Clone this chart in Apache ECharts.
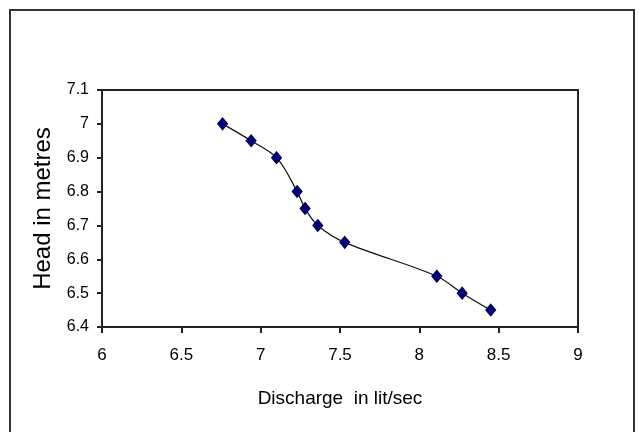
<!DOCTYPE html>
<html>
<head>
<meta charset="utf-8">
<script src="https://cdn.jsdelivr.net/npm/echarts@6/dist/echarts.min.js"></script>
<style>
html,body{margin:0;padding:0;background:#fff;}
#chart{width:639px;height:432px;}
</style>
</head>
<body>
<div id="chart"></div>
<script>
// Data
var discharge = [6.76, 6.94, 7.10, 7.23, 7.28, 7.36, 7.53, 8.11, 8.27, 8.45];
var head = [7.00, 6.95, 6.90, 6.80, 6.75, 6.70, 6.65, 6.55, 6.50, 6.45];
var xTitle = 'Discharge  in lit/sec';
var yTitle = 'Head in metres';

var points = discharge.map(function (d, i) { return [d, head[i]]; });

var chart = echarts.init(document.getElementById('chart'), null, {renderer: 'canvas'});
var font = '"Liberation Sans", Arial, sans-serif';
chart.setOption({
  animation: false,
  backgroundColor: '#ffffff',
  graphic: [{
    type: 'rect',
    shape: {x: 10, y: 10, width: 624, height: 440},
    style: {fill: 'none', stroke: '#333', lineWidth: 2},
    silent: true
  }],
  grid: {
    left: 102, right: 61, top: 90, bottom: 105,
    show: true, borderColor: '#222', borderWidth: 2, backgroundColor: 'transparent'
  },
  xAxis: {
    type: 'value', min: 6, max: 9, interval: 0.5,
    name: xTitle, nameLocation: 'middle', nameGap: 62,
    nameTextStyle: {fontFamily: font, fontSize: 19, color: '#000'},
    axisLine: {show: true, lineStyle: {color: '#222', width: 2}},
    axisTick: {show: true, inside: false, length: 6, lineStyle: {color: '#222', width: 2}},
    axisLabel: {fontFamily: font, fontSize: 17, color: '#000', margin: 20},
    splitLine: {show: false}
  },
  yAxis: {
    type: 'value', min: 6.4, max: 7.1, interval: 0.1,
    name: yTitle, nameLocation: 'middle', nameGap: 44, nameRotate: 90,
    nameTextStyle: {fontFamily: font, fontSize: 24, color: '#000'},
    axisLine: {show: true, lineStyle: {color: '#222', width: 2}},
    axisTick: {show: true, inside: false, length: 5, lineStyle: {color: '#222', width: 2}},
    axisLabel: {fontFamily: font, fontSize: 16, color: '#000', margin: 13,
      formatter: function (v) { return String(Math.round(v * 10) / 10); }},
    splitLine: {show: false}
  },
  series: [{
    type: 'line',
    data: points,
    smooth: 0.35,
    symbol: 'diamond',
    symbolSize: [10, 12],
    itemStyle: {color: '#000080', borderColor: '#000040', borderWidth: 1},
    lineStyle: {color: '#111', width: 1.2}
  }]
});
</script>
</body>
</html>
